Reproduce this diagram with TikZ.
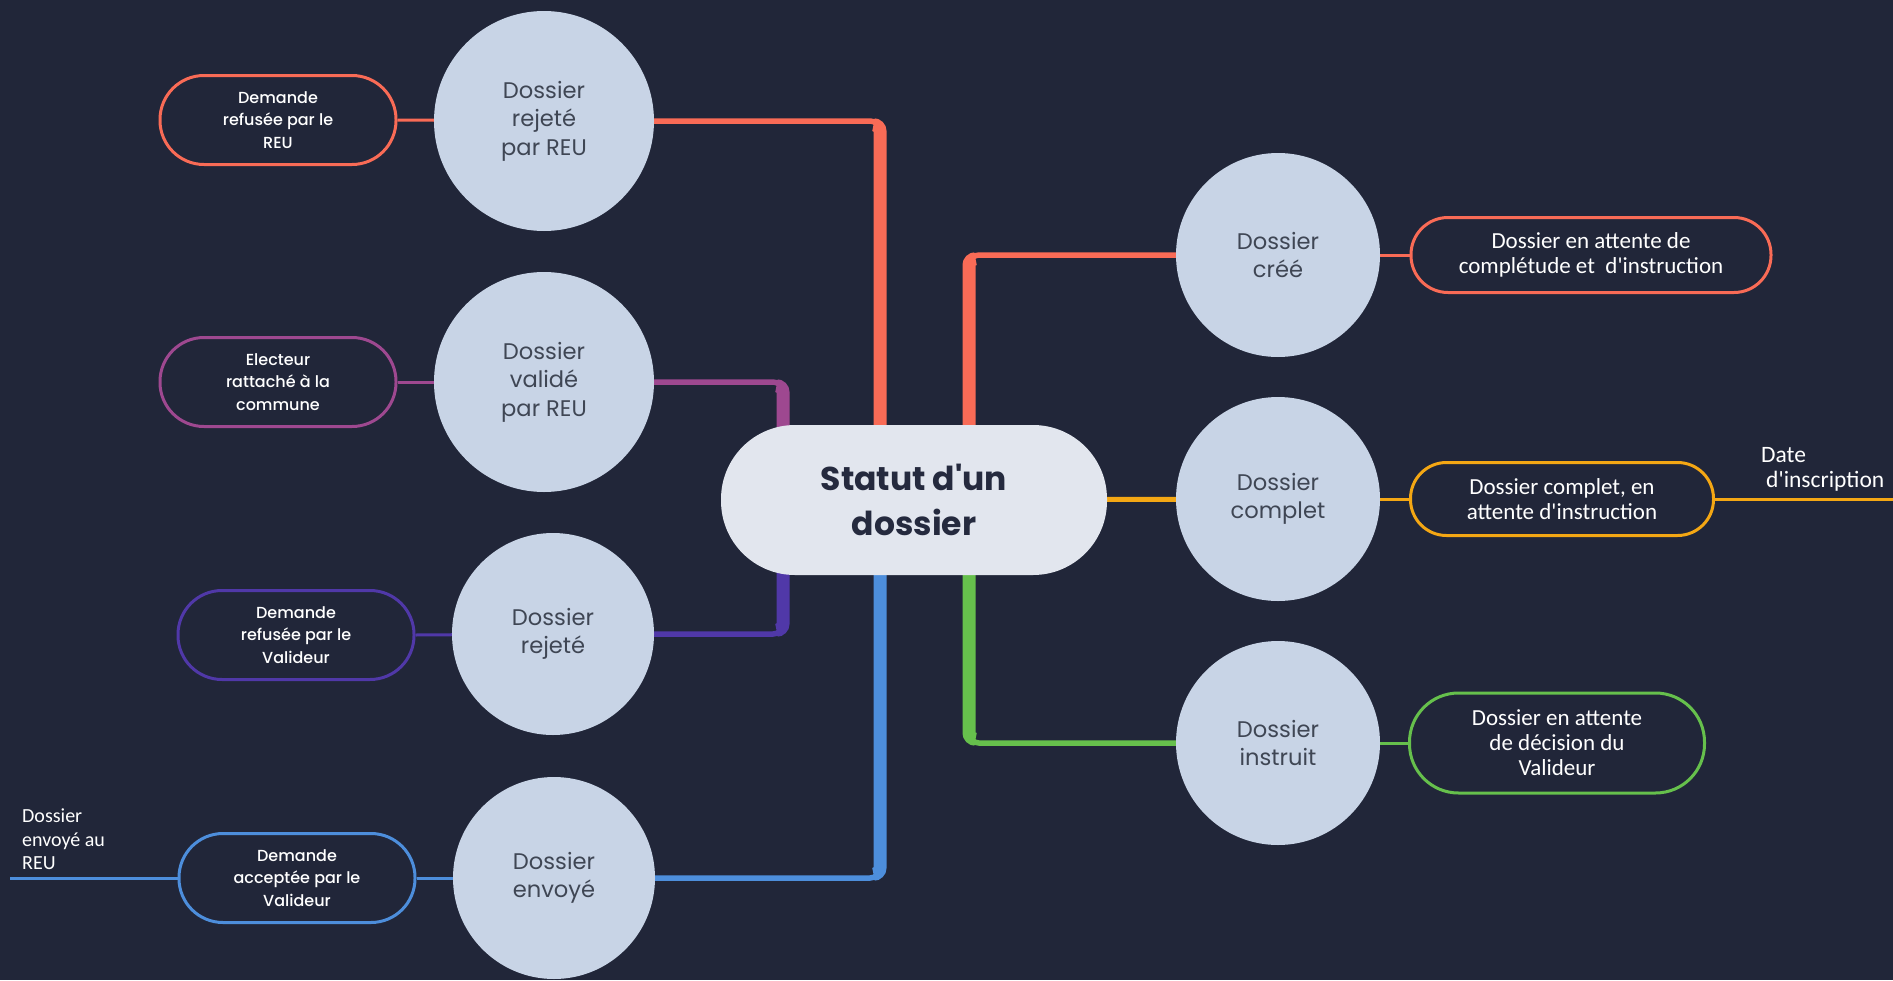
\documentclass[tikz,border=0pt]{standalone}
\usepackage{fontspec}
\setmainfont{Carlito}[Ligatures=TeXOff]
\newfontfamily\mfont{Poppins}
\newfontfamily\mmed{Poppins Medium}
\usetikzlibrary{calc,backgrounds}
\definecolor{bgc}{HTML}{212639}
\definecolor{redc}{HTML}{F96B56}
\definecolor{purc}{HTML}{9E4890}
\definecolor{indc}{HTML}{5038A8}
\definecolor{bluc}{HTML}{4D8EDC}
\definecolor{grnc}{HTML}{66C04C}
\definecolor{orac}{HTML}{F4A714}
\definecolor{circc}{HTML}{C8D4E6}
\definecolor{centc}{HTML}{E2E6EE}
\definecolor{circtext}{HTML}{3F4654}
\definecolor{centtext}{HTML}{252A3E}
\begin{document}
\begin{tikzpicture}[x=1pt,y=-1pt,
  circ/.style={circle, fill=circc, minimum size=#1, inner sep=0pt, text=circtext,
    font=\mfont\fontsize{22.6}{28.5}\selectfont, align=center},
  cnode/.style={rectangle, fill=centc, minimum width=386, minimum height=150,
    rounded corners=74, text=centtext, align=center, inner sep=0pt,
    font=\mfont\bfseries\fontsize{33}{45}\selectfont},
  lbox/.style={rectangle, fill=bgc, line width=3, text=white, align=center, inner sep=0pt,
    minimum width=236, minimum height=89, rounded corners=44,
    font=\mmed\fontsize{16}{22.7}\selectfont},
  rbox/.style={rectangle, fill=bgc, line width=3, text=white, align=center, inner sep=0pt,
    font=\fontsize{23}{25}\selectfont},
  thin/.style={line width=5.5, rounded corners=10},
  thick/.style={line width=13, rounded corners=6.5},
  link/.style={line width=3},
  lab/.style={text=white, align=left, inner sep=0pt, anchor=north west}
]
\useasboundingbox (0,0) rectangle (1893,980);

% central node
\node[cnode] (cent) at (914,500) {Statut d'un\\dossier};

% circles
\node[circ=220] (c1) at (544,121) {Dossier\\rejeté\\par REU};
\node[circ=220] (c2) at (544,382) {Dossier\\validé\\par REU};
\node[circ=202] (c3) at (553,634) {Dossier\\rejeté};
\node[circ=202] (c4) at (554,878) {Dossier\\envoyé};
\node[circ=204] (r1) at (1278,255) {Dossier\\créé};
\node[circ=204] (r2) at (1278,499) {Dossier\\complet};
\node[circ=204] (r3) at (1278,743) {Dossier\\instruit};

% left boxes
\node[lbox, draw=redc] (b1) at (278,120) {Demande\\refusée par le\\REU};
\node[lbox, draw=purc] (b2) at (278,382) {Electeur\\rattaché à la\\commune};
\node[lbox, draw=indc] (b3) at (296,635) {Demande\\refusée par le\\Valideur};
\node[lbox, draw=bluc] (b4) at (297,878) {Demande\\acceptée par le\\Valideur};

% right boxes
\node[rbox, draw=redc, minimum width=360, minimum height=75, rounded corners=37] (b5) at (1591,255)
  {Dossier en attente de\\complétude et~ d'instruction};
\node[rbox, draw=orac, minimum width=303, minimum height=73, rounded corners=36] (b6) at (1562,499)
  {Dossier complet, en\\attente d'instruction};
\node[rbox, draw=grnc, minimum width=295, minimum height=100, rounded corners=49] (b7) at (1557,743)
  {Dossier en attente\\de décision du\\Valideur};

% free labels
\node[lab, font=\fontsize{20}{23.5}\selectfont] (l1) at (22,809) {Dossier\\envoyé au\\REU};
\node[lab, font=\fontsize{23.5}{25}\selectfont] (l2) at (1761,447) {Date\\\hspace*{5pt}d'inscription};

\coordinate (xa) at (880,0);
\coordinate (xb) at (783,0);
\coordinate (xc) at (969,0);
\coordinate (bend) at (10,878);
\coordinate (oend) at (1893,499);

\begin{scope}[on background layer]
  \fill[bgc] (0,0) rectangle (1893,980);
  % top-left red
  \draw[redc, thin] (c1.center) -| (xa |- cent.center);
  \draw[redc, thick] ($(xa |- c1.center)+(-6.5,3.75)$) -| (xa |- cent.center);
  % purple
  \draw[purc, thin] (c2.center) -| (xb |- cent.center);
  \draw[purc, thick] ($(xb |- c2.center)+(-6.5,3.75)$) -| (xb |- cent.center);
  % indigo
  \draw[indc, thin] (c3.center) -| (xb |- cent.center);
  \draw[indc, thick] ($(xb |- c3.center)+(-6.5,-3.75)$) -| (xb |- cent.center);
  % blue
  \draw[bluc, thin] (c4.center) -| (xa |- cent.center);
  \draw[bluc, thick] ($(xa |- c4.center)+(-6.5,-3.75)$) -| (xa |- cent.center);
  % right red
  \draw[redc, thin] (xc |- cent.center) |- (r1.center);
  \draw[redc, thick] (xc |- cent.center) |- ($(xc |- r1.center)+(6.5,3.75)$);
  % green
  \draw[grnc, thin] (xc |- cent.center) |- (r3.center);
  \draw[grnc, thick] (xc |- cent.center) |- ($(xc |- r3.center)+(6.5,-3.75)$);
  % orange
  \draw[orac, line width=5] (cent.center) -- (r2.center);
  % box links
  \draw[redc, link] (b1.east) -- (c1.center);
  \draw[purc, link] (b2.east) -- (c2.center);
  \draw[indc, link] (b3.east) -- (c3.center);
  \draw[bluc, link] (b4.east) -- (c4.center);
  \draw[bluc, link] (b4.west) -- (bend);
  \draw[redc, link] (r1.center) -- (b5.west);
  \draw[orac, link] (r2.center) -- (b6.west);
  \draw[orac, link] (b6.east) -- (oend);
  \draw[grnc, link] (r3.center) -- (b7.west);
\end{scope}
\end{tikzpicture}
\end{document}
